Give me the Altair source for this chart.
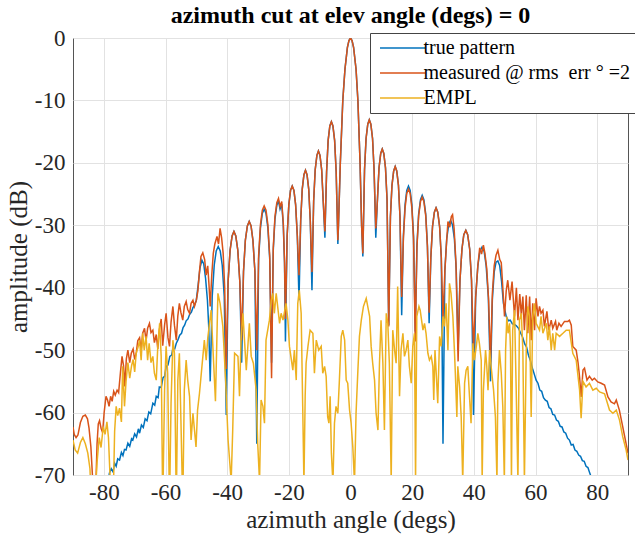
import altair as alt
import pandas as pd

FONT = "Liberation Serif"

series_names = ["true pattern", "measured @ rms\u00a0 err \u00b0 =2", "EMPL"]
series_colors = ["#0072BD", "#D95319", "#EDB120"]

x_ticks = [-80, -60, -40, -20, 0, 20, 40, 60, 80]
y_ticks = [-70, -60, -50, -40, -30, -20, -10, 0]

# ---------------- true pattern (blue) ----------------
true_x = [
    -78.6, -78.2, -77.6, -77.0, -76.5, -76.0, -75.5, -74.9, -74.3, -73.8, -73.3, -72.8, -72.2, -71.6, -71.0,
    -70.6, -70.0, -69.4, -68.8, -68.4, -67.8, -67.2, -66.6, -66.0, -65.4, -64.8, -64.1, -63.5, -63.0, -62.4,
    -62.0, -61.4, -60.8, -60.3, -59.8, -59.2, -58.6, -58.0, -57.6, -57.0, -56.5, -56.0, -55.4, -54.8, -54.3,
    -53.8, -53.3, -52.7, -52.2, -51.6, -51.1, -50.6, -50.0, -49.4, -48.8, -48.2, -47.6, -47.0, -46.4, -46.0,
    -45.5,
    -44.85, -44.2, -43.55, -42.9, -42.25, -41.6, -40.95, -40.3,
    -39.7, -39.05, -38.4, -37.8, -37.2, -36.55, -35.9, -35.3,
    -34.7, -34.1, -33.45, -32.85, -32.25, -31.65, -31.0, -30.4,
    -29.8, -29.2, -28.6, -28.0, -27.4, -26.8, -26.2, -25.6,
    -25.05, -24.5, -23.9, -23.35, -22.85, -22.3, -21.8, -21.4, -21.1,
    -20.55, -20.0, -19.45, -18.9, -18.35, -17.8, -17.25, -16.7,
    -16.15, -15.65, -15.1, -14.6, -14.1, -13.55, -13.05, -12.5,
    -11.95, -11.45, -10.9, -10.4, -9.9, -9.35, -8.85, -8.3,
    -7.75, -7.25, -6.7, -6.2, -5.7, -5.15, -4.65, -4.1,
    -3.9, -3.3, -2.5, -1.8, -1.0, -0.5, 0.0, 0.5, 1.0, 1.8, 2.4, 3.1, 3.6, 4.0,
    4.55, 5.05, 5.6, 6.1, 6.6, 7.15, 7.65, 8.2,
    8.75, 9.25, 9.8, 10.3, 10.8, 11.35, 11.85, 12.4,
    12.95, 13.45, 14.0, 14.5, 15.0, 15.55, 16.05, 16.6,
    17.15, 17.7, 18.25, 18.8, 19.35, 19.9, 20.45, 21.0,
    21.55, 22.1, 22.7, 23.25, 23.8, 24.4, 24.95, 25.5,
    26.05, 26.6, 27.2, 27.75, 28.3, 28.9, 29.45, 30.0,
    30.6, 31.2, 31.85, 32.45, 33.05, 33.7, 34.3, 34.9,
    35.5, 36.15, 36.75, 37.4, 38.0, 38.65, 39.25, 39.9,
    40.6, 41.3, 41.95, 42.65, 43.35, 44.0, 44.7, 45.4,
    46.0, 46.6, 47.2, 47.8, 48.4, 49.0, 49.6, 50.5, 51.2, 51.8, 52.5, 53.2, 53.8, 54.5, 55.2, 55.8,
    56.5, 57.1, 57.7, 58.3, 59.0, 59.7, 60.2, 60.8, 61.4, 62.0, 62.6, 63.2, 63.8, 64.4, 65.0, 65.6,
    66.2, 66.8, 67.4, 68.0, 68.6, 69.2, 69.8, 70.4, 71.0, 71.6, 72.2, 72.8, 73.4, 74.0, 74.6, 75.2,
    75.8, 76.4, 77.0, 77.6, 78.2, 78.6,
]
true_y = [
    -71.5, -69.7, -69.0, -69.5, -68.1, -68.6, -67.4, -67.6, -66.4, -66.9, -65.9, -66.0, -64.9, -65.4, -64.2,
    -64.4, -63.4, -63.9, -62.6, -63.3, -62.0, -62.4, -61.0, -61.3, -59.9, -60.2, -58.5, -58.8, -57.4, -57.6,
    -55.9, -56.0, -54.4, -54.2, -52.6, -52.4, -51.0, -50.8, -49.7, -49.8, -48.9, -48.4, -47.6, -47.3, -46.4,
    -46.0, -45.3, -45.0, -44.3, -43.9, -43.2, -42.8, -42.0, -39.5, -36.8, -35.6, -36.2, -38.5, -42.0, -46.0,
    -55.0,
    -41.4, -36.4, -34.1, -33.4, -34.1, -36.4, -41.4, -60.4,
    -39.0, -34.0, -31.7, -31.0, -31.7, -34.0, -39.0, -52.0,
    -37.4, -32.4, -30.1, -29.4, -30.1, -32.4, -37.4, -65.0,
    -35.4, -30.4, -28.1, -27.4, -28.1, -30.4, -35.4, -52.0,
    -34.0, -29.0, -26.8, -26.1, -27.4, -26.6, -30.0, -36.0, -48.6,
    -31.7, -26.7, -24.4, -23.7, -24.4, -26.7, -31.7, -42.0,
    -29.2, -24.2, -21.9, -21.2, -21.9, -24.2, -29.2, -40.4,
    -26.1, -21.1, -18.8, -18.1, -18.8, -21.1, -26.1, -32.0,
    -21.4, -16.4, -14.1, -13.4, -14.1, -16.4, -21.4, -33.0,
    -30.0, -20.0, -10.0, -5.0, -1.5, -0.4, 0.0, -0.4, -1.5, -5.0, -10.0, -20.0, -30.0, -35.0,
    -21.1, -16.1, -13.8, -13.1, -13.8, -16.1, -21.1, -32.0,
    -25.8, -20.8, -18.5, -17.8, -18.5, -20.8, -25.8, -46.0,
    -28.6, -23.6, -21.3, -20.6, -21.3, -23.6, -28.6, -44.4,
    -31.7, -26.7, -24.4, -23.7, -24.4, -26.7, -31.7, -47.0,
    -33.2, -28.2, -25.9, -25.2, -25.9, -28.2, -33.2, -45.7,
    -35.2, -30.2, -27.9, -27.2, -27.9, -30.2, -35.2, -65.0,
    -37.2, -32.2, -29.9, -29.2, -29.9, -32.2, -37.2, -50.0,
    -38.8, -33.8, -31.5, -30.8, -31.5, -33.8, -38.8, -60.4,
    -41.5, -36.5, -34.2, -33.5, -34.2, -36.5, -41.5, -55.0,
    -42.0, -37.5, -35.9, -35.7, -36.5, -39.0, -42.5, -44.6, -45.3, -45.2, -45.8, -45.9, -46.1, -46.5, -47.3, -47.9,
    -49.0, -49.5, -50.8, -51.6, -52.9, -54.0, -54.8, -55.3, -56.4, -56.6, -57.6, -58.0, -58.2, -59.2, -59.4, -60.3,
    -60.4, -61.2, -61.4, -62.2, -62.3, -63.1, -63.3, -64.1, -64.4, -65.2, -65.1, -66.0, -66.2, -66.8, -67.0, -67.7,
    -67.8, -68.6, -68.8, -69.7, -70.5, -71.5,
]

# ---------------- measured (orange) ----------------
meas_x = [
    -90.0, -89.6, -89.0, -88.4, -87.6, -86.8, -86.0, -85.3, -84.8, -84.2, -83.7, -83.3, -82.6, -82.2, -81.8,
    -81.4, -80.9, -80.4, -79.9, -79.3, -78.8, -78.3, -77.8, -77.3, -76.8, -76.3, -75.7, -75.2, -74.6, -74.1,
    -73.6, -73.2, -72.7, -72.2, -71.6, -71.1, -70.5, -70.0, -69.5, -69.0, -68.4, -67.9, -67.4, -66.8, -66.3,
    -65.8, -65.2, -64.7, -64.1, -63.6, -63.0, -62.5, -62.0, -61.4, -60.9, -60.3, -59.8, -59.2, -58.7, -58.2,
    -57.6, -57.1, -56.5, -56.0, -55.5, -55.0, -54.4, -53.9, -53.3, -52.8, -52.2, -51.7, -51.1, -50.6, -50.0,
    -49.5, -49.0, -48.5, -47.9, -47.3, -46.8, -46.3, -45.9, -45.5, -45.0, -44.5, -44.0, -43.3, -42.8, -42.3,
    -41.8, -41.3, -40.8, -40.3,
    -39.7, -39.05, -38.4, -37.8, -37.2, -36.55, -35.9, -35.3,
    -34.7, -34.1, -33.45, -32.85, -32.25, -31.65, -31.0, -30.4,
    -29.8, -29.2, -28.6, -28.0, -27.4, -26.8, -26.2, -25.6,
    -25.05, -24.5, -23.9, -23.35, -22.85, -22.3, -21.8, -21.4, -21.1,
    -20.55, -20.0, -19.45, -18.9, -18.35, -17.8, -17.25, -16.7,
    -16.15, -15.65, -15.1, -14.6, -14.1, -13.55, -13.05, -12.5,
    -11.95, -11.45, -10.9, -10.4, -9.9, -9.35, -8.85, -8.3,
    -7.75, -7.25, -6.7, -6.2, -5.7, -5.15, -4.65, -4.1,
    -3.9, -3.3, -2.5, -1.8, -1.0, -0.5, 0.0, 0.5, 1.0, 1.8, 2.4, 3.1, 3.6, 4.0,
    4.55, 5.05, 5.6, 6.1, 6.6, 7.15, 7.65, 8.2,
    8.75, 9.25, 9.8, 10.3, 10.8, 11.35, 11.85, 12.4,
    12.95, 13.45, 14.0, 14.5, 15.0, 15.55, 16.05, 16.6,
    17.15, 17.7, 18.25, 18.8, 19.35, 19.9, 20.45, 21.0,
    21.55, 22.1, 22.7, 23.25, 23.8, 24.4, 24.95, 25.5,
    26.05, 26.6, 27.2, 27.75, 28.3, 28.9, 29.45, 30.0,
    30.6, 31.2, 31.6, 32.2, 32.7, 33.1, 33.6, 34.2, 34.9,
    35.5, 36.15, 36.75, 37.4, 38.0, 38.65, 39.25, 39.9,
    40.6, 41.3, 41.9, 42.5, 43.1, 43.6, 44.2, 44.8, 45.4,
    46.0, 46.6, 47.2, 47.8, 48.4, 48.9, 49.4, 49.95, 50.5, 51.0, 51.7, 52.4, 53.2, 53.8, 54.3, 54.9,
    55.4, 55.9, 56.4, 57.0, 57.5, 58.1, 58.6, 59.1, 59.7, 60.2, 60.8, 61.3, 61.8, 62.4, 62.9, 63.7,
    64.3, 65.1, 65.6, 66.5, 66.9, 67.6, 68.3, 69.4, 70.5, 71.0, 71.6, 72.1, 73.2, 73.8, 74.3, 74.8,
    75.4, 75.9, 76.7, 77.5, 78.4, 79.1, 80.2, 81.3, 82.4, 83.5, 84.5, 85.6, 86.2, 87.2, 88.3, 89.4, 90.0,
]
meas_y = [
    -62.3, -63.5, -64.0, -63.6, -61.6, -60.6, -60.4, -61.0, -62.5, -65.5, -70.0, -74.0, -72.0, -65.0, -61.8,
    -61.3, -62.5, -63.2, -60.0, -57.4, -58.0, -59.0, -57.4, -58.2, -56.6, -57.2, -56.4, -56.8, -53.5, -51.0,
    -52.5, -55.8, -51.4, -50.0, -52.0, -50.5, -49.8, -51.5, -50.5, -48.5, -48.0, -50.0, -47.3, -46.5, -48.5,
    -46.5, -45.7, -47.2, -46.8, -48.8, -47.5, -49.8, -46.8, -45.0, -49.3, -46.0, -44.1, -48.0, -49.4, -45.5,
    -43.0, -46.0, -48.4, -44.5, -42.5, -44.0, -45.2, -43.0, -42.2, -43.5, -44.1, -42.5, -42.0, -43.0, -42.0,
    -40.5, -37.5, -35.0, -34.4, -35.5, -38.0, -36.5, -39.5, -43.0, -38.0, -34.5, -33.0, -31.8, -33.0, -30.5,
    -32.0, -34.5, -40.0, -53.0,
    -39.0, -34.0, -31.7, -31.0, -31.7, -34.0, -39.0, -48.4,
    -37.4, -32.4, -30.1, -29.4, -30.1, -32.4, -37.4, -50.0,
    -34.9, -29.9, -27.6, -26.9, -27.6, -29.9, -34.9, -54.5,
    -33.6, -28.6, -26.4, -25.7, -27.0, -26.2, -29.6, -35.6, -45.0,
    -31.7, -26.7, -24.4, -23.7, -24.4, -26.7, -31.7, -38.0,
    -29.2, -24.2, -21.9, -21.2, -21.9, -24.2, -29.2, -37.5,
    -26.1, -21.1, -18.8, -18.1, -18.8, -21.1, -26.1, -31.0,
    -21.4, -16.4, -14.1, -13.4, -14.1, -16.4, -21.4, -32.4,
    -30.0, -20.0, -10.0, -5.0, -1.5, -0.4, 0.0, -0.4, -1.5, -5.0, -10.0, -20.0, -30.0, -34.5,
    -21.1, -16.1, -13.8, -13.1, -13.8, -16.1, -21.1, -30.5,
    -25.8, -20.8, -18.5, -17.8, -18.5, -20.8, -25.8, -46.2,
    -28.6, -23.6, -21.3, -20.6, -21.3, -23.6, -28.6, -41.5,
    -32.2, -27.2, -24.9, -24.2, -24.9, -27.2, -32.2, -48.6,
    -33.5, -28.5, -26.2, -25.5, -26.2, -28.5, -33.5, -44.0,
    -35.2, -30.2, -27.9, -27.2, -27.9, -30.2, -35.2, -45.0,
    -37.4, -32.4, -29.4, -30.3, -28.6, -28.3, -30.5, -36.0, -51.8,
    -38.8, -33.8, -31.5, -30.8, -31.5, -33.8, -38.8, -50.0,
    -41.5, -36.5, -33.6, -34.6, -33.2, -34.5, -37.0, -42.0, -52.0,
    -41.0, -36.5, -34.8, -34.0, -35.5, -36.0, -40.0, -44.6, -40.5, -38.8, -42.0, -39.0, -44.6, -40.0, -45.2, -41.0,
    -44.4, -41.4, -46.8, -41.2, -47.3, -41.4, -48.4, -42.5, -46.8, -41.7, -44.6, -43.0, -44.1, -43.6, -46.2, -43.8,
    -46.8, -45.2, -46.5, -45.4, -46.8, -45.7, -46.2, -45.4, -45.4, -45.2, -46.0, -49.4, -50.0, -52.0, -54.3, -57.5,
    -53.2, -52.9, -54.8, -54.2, -54.8, -54.5, -55.1, -55.3, -55.6, -57.5, -58.3, -58.6, -58.0, -59.6, -62.3, -65.0, -66.5,
]

# ---------------- EMPL (yellow) ----------------
empl_x = [
    -90.0, -89.3, -88.5, -87.6, -86.8, -86.0, -85.2, -84.5, -84.0, -83.0, -82.2, -81.5, -80.9, -80.2, -79.6,
    -79.0, -78.5, -78.0, -77.6, -77.0, -76.5, -76.0, -75.5, -74.9, -74.3, -73.9, -73.3, -72.8, -72.2, -71.6,
    -71.0, -70.5, -70.0, -69.5, -68.9, -68.4, -67.9, -67.4, -66.9, -66.3, -65.8, -65.3, -64.7, -64.1, -63.6,
    -63.0, -62.5, -61.9, -61.4, -60.9, -60.3, -59.8, -59.3, -58.7, -58.2, -57.6, -57.1, -56.5, -56.0, -55.5,
    -55.0, -54.4, -53.9, -53.3, -52.8, -52.2, -51.7, -51.1, -50.6, -50.1, -49.6,
    -48.98, -47.4, -46.8, -46.3, -45.2, -43.8, -43.0, -42.3, -41.4, -40.5, -39.7, -38.7, -38.2, -37.6, -36.5,
    -36.0, -35.5, -34.9, -33.8, -32.8, -32.2, -31.5, -30.6, -30.1, -29.5, -29.0, -28.4, -27.9, -27.4, -26.3,
    -25.7, -25.2, -24.7, -24.1, -23.0, -22.5, -21.9, -20.9, -20.3, -19.8,
    -18.7, -18.2, -17.6, -17.1, -16.6, -16.0, -15.5, -15.1, -14.7, -14.4, -13.8, -13.1, -12.2, -11.7, -11.1,
    -10.3, -9.5, -9.0, -8.4, -7.9, -7.4, -7.0, -6.6, -6.2, -5.7, -5.2, -4.7, -4.1, -3.6, -3.0,
    -2.5, -1.9, -1.4, -0.9, -0.3, 0.2, 0.75, 1.3, 1.8, 2.4, 2.9, 3.5, 4.2, 5.1, 6.2,
    6.7, 7.2, 7.8, 8.3, 8.9, 9.4, 9.9, 10.5, 11.0, 11.6, 12.1, 12.6, 13.2, 13.7, 14.3,
    14.8, 15.3, 15.9,
    16.4, 17.0, 17.5, 18.05, 18.6, 19.1, 19.7, 20.2, 20.75, 21.1, 21.5, 22.2, 22.6, 23.5, 24.0,
    24.5, 25.1, 25.6, 26.2, 26.7, 27.0, 27.4, 27.8, 28.3, 28.9, 29.4, 30.0, 30.5, 31.0, 31.6,
    32.1, 32.6, 33.2, 33.7, 34.0, 34.5, 34.8, 35.4, 35.9, 36.4, 37.0, 37.5, 38.05, 38.6, 39.1,
    39.7, 40.2, 40.8, 41.3, 41.8, 42.4, 42.7, 43.1, 43.8, 44.2, 44.6, 45.1, 45.6, 46.4, 47.0,
    47.5, 47.8, 48.3, 48.9, 49.4, 49.9, 50.3, 50.7, 51.1, 51.6, 51.9, 52.2, 52.6, 53.2, 53.7,
    54.3, 54.8, 55.4, 55.9, 56.4, 57.0, 57.5, 58.05, 58.6, 59.1, 59.7, 60.2, 61.3, 61.8, 62.4,
    63.5, 64.0, 64.5, 65.1, 65.6, 66.2, 66.7, 67.8,
    68.9, 69.95, 71.0, 72.1, 73.2, 74.3, 74.8, 75.4, 76.4, 77.5, 78.6, 79.7, 80.8, 82.4, 84.0,
    85.1, 86.2, 87.25, 88.3, 89.4, 90.0,
]
empl_y = [
    -64.4, -66.0, -66.5, -64.8, -64.0, -65.0, -66.5, -69.0, -75.0, -75.0, -68.0, -64.0, -65.6, -62.3, -63.5,
    -61.5, -64.0, -70.0, -75.0, -75.0, -63.0, -59.0, -60.5, -59.3, -61.5, -52.6, -59.0, -55.0, -52.0, -54.5,
    -52.5, -51.5, -53.5, -50.5, -49.5, -48.4, -51.6, -47.3, -50.0, -47.8, -51.6, -48.9, -52.0, -51.0, -53.7,
    -54.8, -49.4, -45.7, -51.0, -75.0, -56.4, -49.4, -53.7, -75.0, -58.5, -48.4, -50.5, -75.0, -54.8, -50.5,
    -61.2, -75.0, -56.4, -51.6, -54.8, -57.4, -64.4, -60.1, -62.8, -65.5, -59.6,
    -56.9, -48.4, -51.6, -48.1, -43.6, -58.2, -40.9, -42.5, -46.2, -54.8, -64.4, -71.0, -62.8, -50.5, -51.0,
    -57.4, -48.4, -44.1, -53.2, -45.7, -51.0, -52.1, -56.4, -64.9, -71.0, -58.0, -59.0, -61.7, -48.4, -45.2,
    -42.0, -40.9, -44.1, -40.9, -45.7, -44.1, -45.2, -42.5, -45.2, -49.4,
    -53.2, -50.0, -54.8, -42.5, -40.4, -44.1, -59.0, -71.3, -57.4, -52.1, -49.4, -46.8, -47.3, -53.7, -48.4,
    -50.0, -49.4, -53.7, -52.6, -54.2, -60.7, -61.7, -57.4, -66.5, -71.3, -61.7, -59.0, -60.1, -54.8, -47.8,
    -46.8, -48.4, -54.8, -55.3, -59.6, -61.7, -65.5, -71.3, -60.1, -53.2, -47.8, -45.2, -43.0, -41.7, -44.6,
    -49.4, -52.1, -54.8, -60.1, -62.8, -52.1, -45.2, -52.1, -62.8, -44.1, -45.7, -52.1, -71.0, -46.8, -50.0,
    -52.1, -39.8, -57.4,
    -50.0, -47.3, -51.0, -50.0, -48.4, -52.6, -55.3, -49.4, -47.3, -71.0, -44.6, -43.0, -43.6, -46.8, -45.7,
    -47.3, -50.5, -51.6, -51.0, -52.6, -58.0, -50.0, -53.7, -58.5, -47.8, -49.4, -44.6, -46.2, -42.5, -50.0,
    -39.3, -40.9, -44.6, -50.0, -53.7, -60.7, -52.6, -55.9, -60.7, -71.0, -55.3, -53.2, -52.6, -57.5, -61.7,
    -48.9, -51.6, -49.4, -47.3, -48.9, -51.6, -71.0, -56.4, -50.0, -52.6, -56.4, -50.0, -52.6, -56.4, -60.7,
    -71.0, -55.3, -50.0, -53.7, -59.1, -71.0, -50.0, -44.6, -47.3, -45.7, -50.0, -71.0, -46.8, -43.6, -55.3,
    -71.0, -45.2, -44.1, -50.0, -71.0, -50.0, -43.0, -44.6, -60.7, -44.6, -42.5, -45.7, -46.8, -44.6, -47.3,
    -45.7, -48.4, -46.2, -50.0, -47.3, -50.0, -47.3, -47.8,
    -47.3, -46.8, -46.8, -50.5, -51.6, -56.4, -60.9, -55.0, -55.9, -55.3, -56.4, -56.1, -56.7, -57.0, -59.6,
    -60.1, -59.6, -61.2, -63.9, -66.0, -67.6,
]

color_scale = alt.Scale(domain=series_names, range=series_colors)

axis_style = dict(
    grid=True, ticks=False, domain=False, labelExpr="'' + datum.value",
    labelFont=FONT, labelFontSize=23, labelColor="#262626",
    titleFont=FONT, titleFontSize=25, titleFontWeight="normal", titleColor="#262626",
    gridColor="#e2e2e2", gridWidth=1,
)

x_enc = alt.X(
    "az:Q",
    scale=alt.Scale(domain=[-90, 90], nice=False, zero=False),
    axis=alt.Axis(values=x_ticks, title="azimuth angle (degs)", labelPadding=6, titlePadding=3, **axis_style),
)
y_enc = alt.Y(
    "amp:Q",
    scale=alt.Scale(domain=[-70, 0], nice=False, zero=False),
    axis=alt.Axis(values=y_ticks, title="amplitude (dB)", labelPadding=8, titlePadding=3, **axis_style),
)

legend_def = alt.Legend(
    orient="none", legendX=297, legendY=-5, direction="vertical", title=None,
    symbolType="M-4.5,0H4.5", symbolSize=100, symbolStrokeWidth=1.5, symbolOffset=17.5,
    labelFont=FONT, labelFontSize=20, labelColor="#000000", labelOffset=11, labelLimit=400,
    rowPadding=5, padding=5, strokeColor="#444444", fillColor="#ffffff", cornerRadius=0,
)


def series_layer(xs, ys, name):
    df = pd.DataFrame({"az": xs, "amp": ys, "series": [name] * len(xs)})
    return alt.Chart(df).mark_line(clip=True, strokeWidth=1.5).encode(
        x=x_enc,
        y=y_enc,
        color=alt.Color("series:N", scale=color_scale, legend=legend_def),
    )


chart = alt.layer(
    series_layer(true_x, true_y, series_names[0]),
    series_layer(meas_x, meas_y, series_names[1]),
    series_layer(empl_x, empl_y, series_names[2]),
).properties(
    width=555,
    height=437,
    padding={"left": 73, "top": 38, "right": 7, "bottom": 62},
    autosize=alt.AutoSizeParams(type="none"),
    background="white",
    title=alt.TitleParams(
        "azimuth cut at elev angle (degs) = 0", font=FONT, fontSize=24, fontWeight="bold",
        color="#000000", anchor="middle", frame="group", offset=-1,
    ),
).configure_view(
    stroke="#555555", strokeWidth=1,
)

chart.save("out.html", embed_options={"renderer": "svg", "actions": False})
